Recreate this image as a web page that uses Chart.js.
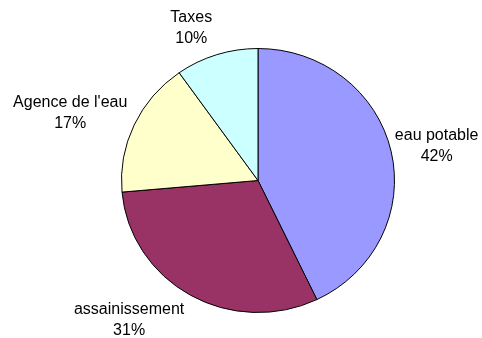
<!DOCTYPE html>
<html>
<head>
<meta charset="utf-8">
<script src="https://cdn.jsdelivr.net/npm/chart.js@4/dist/chart.umd.min.js"></script>
<style>
  html, body { margin: 0; padding: 0; background: #fff; }
  #wrap { width: 482px; height: 338px; }
</style>
</head>
<body>
<div id="wrap"><canvas id="pieChart" width="482" height="338"></canvas></div>
<script>
const labels = ['eau potable', 'assainissement', "Agence de l'eau", 'Taxes'];
const amounts = [42.9, 30.7, 16.6, 9.8];
// percentages as printed on the chart
const shares = [42, 31, 17, 10];
const colors = ['#9999FF', '#993366', '#FFFFCC', '#CCFFFF'];

// the reference pie is a bit flatter than a circle
const squash = 0.967;
// Excel moves a few labels off the plain radial spot
const labelNudge = [[-5, 1], [-29, -1], [-3, 0], [-16, 1]];

const ellipsePlugin = {
  id: 'ellipse',
  beforeDatasetsDraw(chart) {
    const arc = chart.getDatasetMeta(0).data[0];
    const ctx = chart.ctx;
    ctx.save();
    ctx.translate(arc.x, arc.y);
    ctx.scale(1, squash);
    ctx.translate(-arc.x, -arc.y);
  },
  afterDatasetsDraw(chart) {
    chart.ctx.restore();
  },
};

const outsideLabels = {
  id: 'outsideLabels',
  afterDraw(chart) {
    const ctx = chart.ctx;
    const meta = chart.getDatasetMeta(0);
    ctx.save();
    ctx.font = '16px "Liberation Sans", Arial, sans-serif';
    ctx.fillStyle = '#000';
    ctx.textAlign = 'center';
    ctx.textBaseline = 'middle';
    meta.data.forEach((arc, i) => {
      const mid = (arc.startAngle + arc.endAngle) / 2;
      const r = arc.outerRadius + 10;
      const dx = Math.cos(mid);
      const dy = Math.sin(mid);
      const ax = arc.x + dx * r;
      const ay = arc.y + dy * r * squash;
      const line1 = labels[i];
      const line2 = shares[i] + '%';
      const w = Math.max(ctx.measureText(line1).width, ctx.measureText(line2).width);
      const h = 40;
      const cx = ax + dx * w / 2 + labelNudge[i][0];
      const cy = ay + dy * h / 2 + labelNudge[i][1];
      ctx.fillText(line1, cx, cy - 10);
      ctx.fillText(line2, cx, cy + 11);
    });
    ctx.restore();
  },
};

new Chart(document.getElementById('pieChart'), {
  type: 'pie',
  data: {
    labels: labels,
    datasets: [
      {
        data: amounts,
        backgroundColor: colors,
        borderColor: '#000000',
        borderWidth: 1,
      },
    ],
  },
  options: {
    responsive: false,
    animation: false,
    layout: {
      padding: { left: 121, right: 87, top: 43, bottom: 20 },
    },
    plugins: {
      legend: { display: false },
      tooltip: { enabled: false },
    },
  },
  plugins: [ellipsePlugin, outsideLabels],
});
</script>
</body>
</html>
